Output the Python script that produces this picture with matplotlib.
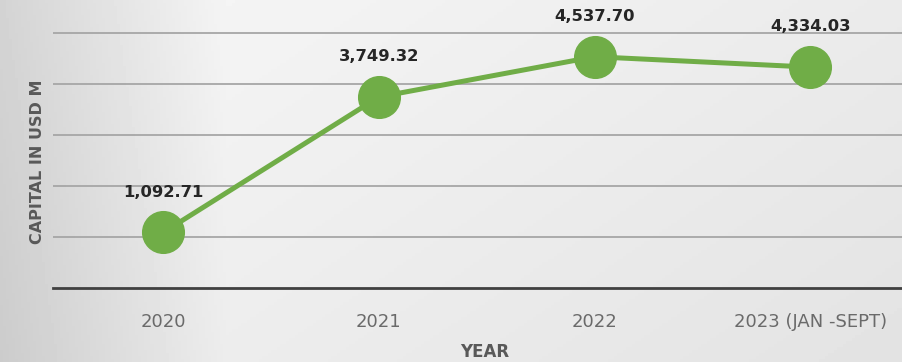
import numpy as np
import matplotlib.pyplot as plt

# data
years = ["2020", "2021", "2022", "2023 (JAN -SEPT)"]
capital = [1092.71, 3749.32, 4537.70, 4334.03]
value_labels = ["1,092.71", "3,749.32", "4,537.70", "4,334.03"]

GREEN = "#70ad47"

plt.rcParams["font.family"] = ["DejaVu Sans"]

fig = plt.figure(figsize=(9.03, 3.62), dpi=100)

# soft gray gradient background (darker at the left edge)
bg = fig.add_axes([0, 0, 1, 1], zorder=-10)
gx = np.linspace(0, 1, 300)
gy = np.linspace(0, 1, 120)
X, Y = np.meshgrid(gx, gy)
shade = 0.80 + 0.14 * np.clip(X * 4, 0, 1) - 0.05 * X + 0.03 * Y
bg.imshow(shade, cmap="gray", vmin=0, vmax=1, aspect="auto",
          extent=[0, 1, 0, 1], origin="lower")
bg.axis("off")

ax = fig.add_axes([0.059, 0.204, 0.941, 0.796])
ax.patch.set_alpha(0)

x = np.arange(len(years))
ax.plot(x, capital, color=GREEN, lw=3.6, marker="o", markersize=30,
        markerfacecolor=GREEN, markeredgecolor=GREEN, zorder=3)

for xi, v, lab in zip(x, capital, value_labels):
    ax.annotate(lab, (xi, v), xytext=(0, 29), textcoords="offset points",
                ha="center", va="center", fontsize=11.8, fontweight="bold",
                color="#262626", zorder=4)

ax.set_xlim(-0.51, 3.43)
ax.set_ylim(0, 5650)
ax.set_yticks([1000, 2000, 3000, 4000, 5000])
ax.yaxis.grid(True, color="#a6a6a6", lw=1.3)
ax.tick_params(axis="y", left=False, labelleft=False)
ax.set_xticks(x)
ax.set_xticklabels(years, fontsize=13, color="#6a6a6a")
ax.tick_params(axis="x", length=0, pad=18)

for side in ["top", "right", "left"]:
    ax.spines[side].set_visible(False)
ax.spines["bottom"].set_color("#404040")
ax.spines["bottom"].set_linewidth(2)

ax.set_xlabel("YEAR", fontsize=12, fontweight="bold", color="#595959")
ax.xaxis.set_label_coords(0.508, -0.19)
ax.set_ylabel("CAPITAL IN USD M", fontsize=11.5, fontweight="bold",
              color="#595959")
ax.yaxis.set_label_coords(-0.01, 0.44)

fig.savefig("out.png", dpi=100)
